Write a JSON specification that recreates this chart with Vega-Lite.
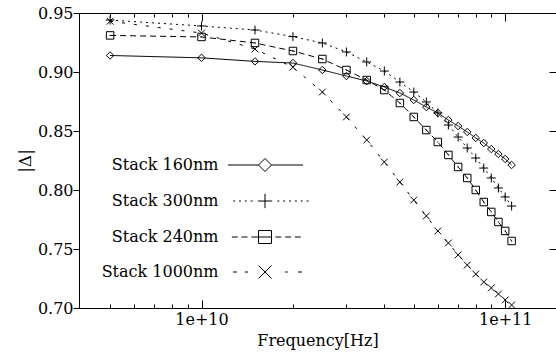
{
  "$schema": "https://vega.github.io/schema/vega-lite/v6.json",
  "width": 477,
  "height": 295,
  "autosize": "none",
  "padding": {"left": 79, "top": 13, "right": 0, "bottom": 48},
  "background": "white",
  "config": {
    "view": {"stroke": null, "strokeWidth": 0},
    "font": "DejaVu Serif",
    "axis": {
      "labelFont": "DejaVu Serif", "titleFont": "DejaVu Serif",
      "labelColor": "black", "titleColor": "black", "tickColor": "black", "domainColor": "black",
      "grid": false, "labelFontSize": 16, "titleFontSize": 16, "titleFontWeight": "normal",
      "labelFlush": false, "tickWidth": 1, "domainWidth": 1
    }
  },
  "data": {"values": [
    {"s": "Stack 160nm", "f": 5e9, "v": 0.914},
    {"s": "Stack 160nm", "f": 1e10, "v": 0.912},
    {"s": "Stack 160nm", "f": 1.5e10, "v": 0.909},
    {"s": "Stack 160nm", "f": 2e10, "v": 0.9076},
    {"s": "Stack 160nm", "f": 2.5e10, "v": 0.9017},
    {"s": "Stack 160nm", "f": 3e10, "v": 0.8966},
    {"s": "Stack 160nm", "f": 3.5e10, "v": 0.8924},
    {"s": "Stack 160nm", "f": 4e10, "v": 0.8873},
    {"s": "Stack 160nm", "f": 4.5e10, "v": 0.8822},
    {"s": "Stack 160nm", "f": 5e10, "v": 0.8763},
    {"s": "Stack 160nm", "f": 5.5e10, "v": 0.8703},
    {"s": "Stack 160nm", "f": 6e10, "v": 0.8653},
    {"s": "Stack 160nm", "f": 6.5e10, "v": 0.8593},
    {"s": "Stack 160nm", "f": 7e10, "v": 0.8542},
    {"s": "Stack 160nm", "f": 7.5e10, "v": 0.8492},
    {"s": "Stack 160nm", "f": 8e10, "v": 0.8441},
    {"s": "Stack 160nm", "f": 8.5e10, "v": 0.8398},
    {"s": "Stack 160nm", "f": 9e10, "v": 0.8347},
    {"s": "Stack 160nm", "f": 9.5e10, "v": 0.8305},
    {"s": "Stack 160nm", "f": 1e11, "v": 0.8263},
    {"s": "Stack 160nm", "f": 1.05e11, "v": 0.8212},
    {"s": "Stack 300nm", "f": 5e9, "v": 0.944},
    {"s": "Stack 300nm", "f": 1e10, "v": 0.939},
    {"s": "Stack 300nm", "f": 1.5e10, "v": 0.9356},
    {"s": "Stack 300nm", "f": 2e10, "v": 0.930},
    {"s": "Stack 300nm", "f": 2.5e10, "v": 0.9246},
    {"s": "Stack 300nm", "f": 3e10, "v": 0.917},
    {"s": "Stack 300nm", "f": 3.5e10, "v": 0.9085},
    {"s": "Stack 300nm", "f": 4e10, "v": 0.9008},
    {"s": "Stack 300nm", "f": 4.5e10, "v": 0.8915},
    {"s": "Stack 300nm", "f": 5e10, "v": 0.883},
    {"s": "Stack 300nm", "f": 5.5e10, "v": 0.8746},
    {"s": "Stack 300nm", "f": 6e10, "v": 0.8653},
    {"s": "Stack 300nm", "f": 6.5e10, "v": 0.8551},
    {"s": "Stack 300nm", "f": 7e10, "v": 0.8449},
    {"s": "Stack 300nm", "f": 7.5e10, "v": 0.8356},
    {"s": "Stack 300nm", "f": 8e10, "v": 0.8271},
    {"s": "Stack 300nm", "f": 8.5e10, "v": 0.8186},
    {"s": "Stack 300nm", "f": 9e10, "v": 0.8102},
    {"s": "Stack 300nm", "f": 9.5e10, "v": 0.8017},
    {"s": "Stack 300nm", "f": 1e11, "v": 0.7941},
    {"s": "Stack 300nm", "f": 1.05e11, "v": 0.7864},
    {"s": "Stack 240nm", "f": 5e9, "v": 0.931},
    {"s": "Stack 240nm", "f": 1e10, "v": 0.9297},
    {"s": "Stack 240nm", "f": 1.5e10, "v": 0.9246},
    {"s": "Stack 240nm", "f": 2e10, "v": 0.9178},
    {"s": "Stack 240nm", "f": 2.5e10, "v": 0.911},
    {"s": "Stack 240nm", "f": 3e10, "v": 0.9017},
    {"s": "Stack 240nm", "f": 3.5e10, "v": 0.8932},
    {"s": "Stack 240nm", "f": 4e10, "v": 0.8847},
    {"s": "Stack 240nm", "f": 4.5e10, "v": 0.8737},
    {"s": "Stack 240nm", "f": 5e10, "v": 0.8619},
    {"s": "Stack 240nm", "f": 5.5e10, "v": 0.8508},
    {"s": "Stack 240nm", "f": 6e10, "v": 0.8407},
    {"s": "Stack 240nm", "f": 6.5e10, "v": 0.8297},
    {"s": "Stack 240nm", "f": 7e10, "v": 0.8195},
    {"s": "Stack 240nm", "f": 7.5e10, "v": 0.8102},
    {"s": "Stack 240nm", "f": 8e10, "v": 0.800},
    {"s": "Stack 240nm", "f": 8.5e10, "v": 0.7898},
    {"s": "Stack 240nm", "f": 9e10, "v": 0.7814},
    {"s": "Stack 240nm", "f": 9.5e10, "v": 0.7729},
    {"s": "Stack 240nm", "f": 1e11, "v": 0.7653},
    {"s": "Stack 240nm", "f": 1.05e11, "v": 0.7568},
    {"s": "Stack 1000nm", "f": 5e9, "v": 0.943},
    {"s": "Stack 1000nm", "f": 1e10, "v": 0.933},
    {"s": "Stack 1000nm", "f": 1.5e10, "v": 0.9195},
    {"s": "Stack 1000nm", "f": 2e10, "v": 0.904},
    {"s": "Stack 1000nm", "f": 2.5e10, "v": 0.883},
    {"s": "Stack 1000nm", "f": 3e10, "v": 0.8619},
    {"s": "Stack 1000nm", "f": 3.5e10, "v": 0.8424},
    {"s": "Stack 1000nm", "f": 4e10, "v": 0.8237},
    {"s": "Stack 1000nm", "f": 4.5e10, "v": 0.8068},
    {"s": "Stack 1000nm", "f": 5e10, "v": 0.7915},
    {"s": "Stack 1000nm", "f": 5.5e10, "v": 0.778},
    {"s": "Stack 1000nm", "f": 6e10, "v": 0.7653},
    {"s": "Stack 1000nm", "f": 6.5e10, "v": 0.7551},
    {"s": "Stack 1000nm", "f": 7e10, "v": 0.745},
    {"s": "Stack 1000nm", "f": 7.5e10, "v": 0.7364},
    {"s": "Stack 1000nm", "f": 8e10, "v": 0.7288},
    {"s": "Stack 1000nm", "f": 8.5e10, "v": 0.722},
    {"s": "Stack 1000nm", "f": 9e10, "v": 0.717},
    {"s": "Stack 1000nm", "f": 9.5e10, "v": 0.7119},
    {"s": "Stack 1000nm", "f": 1e11, "v": 0.7068},
    {"s": "Stack 1000nm", "f": 1.05e11, "v": 0.7025}
  ]},
  "layer": [
    {
      "mark": {"type": "line", "color": "black", "strokeWidth": 1},
      "encoding": {
        "x": {"field": "f", "type": "quantitative",
          "scale": {"type": "log", "domain": [3.95e9, 1.47e11], "nice": false, "zero": false},
          "axis": {"orient": "bottom", "values": [1e10, 1e11],
            "labelExpr": "datum.value > 5e10 ? '1e+11' : '1e+10'",
            "tickSize": -8, "labelPadding": 11, "title": "Frequency[Hz]", "titlePadding": 5}},
        "y": {"field": "v", "type": "quantitative",
          "scale": {"domain": [0.7, 0.95], "nice": false, "zero": false},
          "axis": {"orient": "left", "values": [0.7, 0.75, 0.8, 0.85, 0.9, 0.95], "format": ".2f",
            "tickSize": 6, "labelPadding": 0, "title": "|Δ|", "titlePadding": 3, "titleFontSize": 17}},
        "strokeDash": {"field": "s", "type": "nominal",
          "scale": {"domain": ["Stack 160nm", "Stack 300nm", "Stack 240nm", "Stack 1000nm"],
            "range": [[1, 0], [2, 4], [6, 4], [3, 9]]},
          "legend": null}
      }
    },
    {
      "mark": {"type": "point", "color": "black", "strokeWidth": 1, "opacity": 1, "size": 56, "filled": false},
      "encoding": {
        "x": {"field": "f", "type": "quantitative",
          "axis": {"orient": "bottom", "values": [5e9, 6e9, 7e9, 8e9, 9e9, 2e10, 3e10, 4e10, 5e10, 6e10, 7e10, 8e10, 9e10],
            "tickSize": -4, "labels": false, "domain": false, "title": null}},
        "y": {"field": "v", "type": "quantitative",
          "axis": {"orient": "right", "values": [0.7, 0.75, 0.8, 0.85, 0.9, 0.95],
            "tickSize": -7, "labels": false, "domain": false, "domainColor": "transparent", "domainOpacity": 0, "title": null}},
        "shape": {"field": "s", "type": "nominal",
          "scale": {"domain": ["Stack 160nm", "Stack 300nm", "Stack 240nm", "Stack 1000nm"],
            "range": ["M-1,0L0,-1L1,0L0,1Z", "M-1.2,0H1.2M0,-1.2V1.2", "M-1,-1H1V1H-1ZM-0.15,0H0.15", "M-0.9,-0.9L0.9,0.9M-0.9,0.9L0.9,-0.9"]},
          "legend": null}
      }
    },
    {
      "transform": [{"filter": "datum.f < 0"}],
      "mark": {"type": "point", "color": "black", "strokeWidth": 1, "opacity": 1, "size": 169, "filled": false},
      "encoding": {
        "x": {"field": "f", "type": "quantitative",
          "axis": {"orient": "top", "values": [1e10, 1e11], "tickSize": -8, "labels": false, "title": null, "domain": true}},
        "y": {"field": "v", "type": "quantitative", "axis": null},
        "shape": {"field": "s", "type": "nominal",
          "scale": {"domain": ["Stack 160nm", "Stack 300nm", "Stack 240nm", "Stack 1000nm"],
            "range": [
              "M-5.7,0H-1L0,-1L1,0L0,1L-1,0M1,0H5.85",
              "M-4.9,0H-4.6M-4,0H-3.7M-3.1,0H-2.8M-2.2,0H-1.9M-1.1,0H1.1M0,-1.1V1.1M1.9,0H2.2M2.8,0H3.1M3.7,0H4M4.6,0H4.9M5.5,0H5.8M6.4,0H6.7",
              "M-5.1,0H-4.2M-3.6,0H-2.7M-2.1,0H-1M-1,-1H1V1H-1ZM-1,0H1M1.6,0H2.5M3.1,0H4M4.6,0H5.5",
              "M-4.9,0H-4.3M-3.1,0H-2.6M-1,-1L1,1M-1,1L1,-1M3.1,0H3.5M5.1,0H5.7"
            ]},
          "legend": {"orient": "none", "legendX": 178, "legendY": 144, "title": null,
            "labelAlign": "right", "labelOffset": -54.5, "labelFont": "DejaVu Serif", "labelFontSize": 16,
            "labelColor": "black", "symbolSize": 169, "symbolStrokeColor": "black",
            "symbolFillColor": "transparent", "symbolStrokeWidth": 1, "symbolOpacity": 1,
            "rowPadding": 17, "padding": 0, "labelLimit": 300}}
      }
    },
    {
      "transform": [{"filter": "datum.f < 0"}],
      "mark": {"type": "point", "opacity": 0},
      "encoding": {
        "x": {"field": "f", "type": "quantitative",
          "axis": {"orient": "top", "values": [5e9, 6e9, 7e9, 8e9, 9e9, 2e10, 3e10, 4e10, 5e10, 6e10, 7e10, 8e10, 9e10],
            "tickSize": -4, "labels": false, "domain": false, "title": null}},
        "y": {"field": "v", "type": "quantitative", "axis": null}
      }
    }
  ],
  "resolve": {"scale": {"shape": "independent"}, "axis": {"x": "independent", "y": "independent"}}
}
